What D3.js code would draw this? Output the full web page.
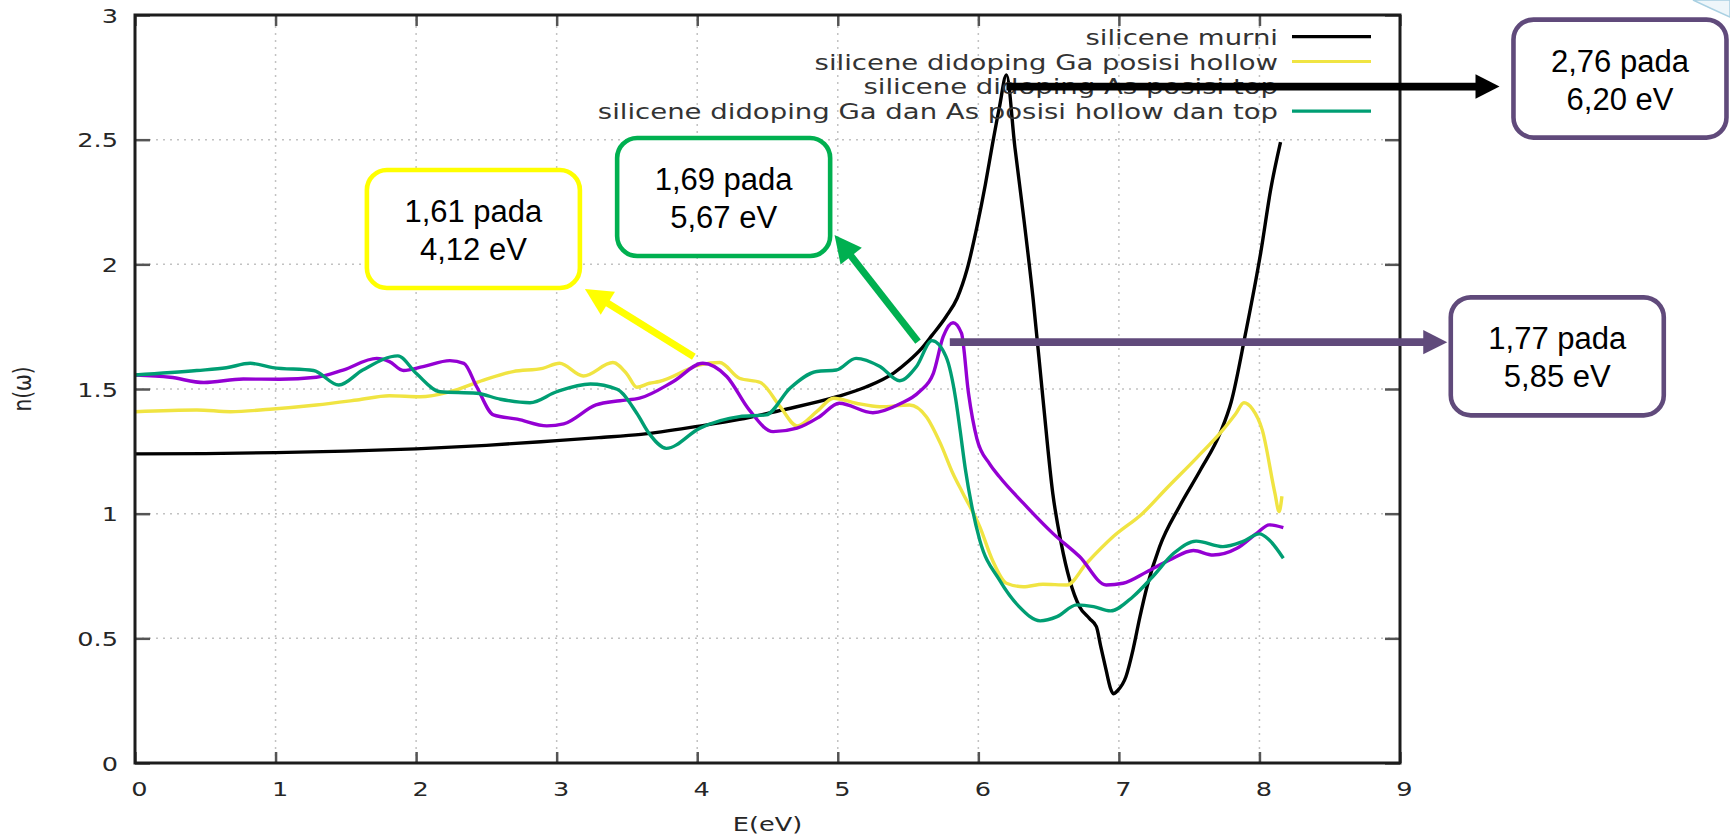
<!DOCTYPE html>
<html>
<head>
<meta charset="utf-8">
<script src="https://cdn.jsdelivr.net/npm/d3@7"></script>
<style>
  body { margin: 0; background: white; }
</style>
</head>
<body>
<div id="container"></div>
<script>
let w = 1730;
let h = 837;

// DATA  [E (eV), n]
let murni = [[0,1.240],[0.5,1.241],[1,1.245],[1.5,1.251],[2,1.260],[2.5,1.274],[3,1.293],[3.3,1.305],[3.6,1.318],
  [4.0,1.350],[4.3,1.378],[4.6,1.415],[5.0,1.470],[5.2,1.508],[5.4,1.565],[5.5,1.610],[5.6,1.665],[5.67,1.715],
  [5.77,1.790],[5.85,1.865],[5.92,1.980],[5.99,2.150],[6.05,2.320],[6.10,2.480],[6.15,2.630],[6.20,2.760],
  [6.26,2.470],[6.32,2.200],[6.39,1.860],[6.46,1.460],[6.53,1.080],[6.59,0.880],[6.65,0.734],[6.72,0.627],
  [6.79,0.580],[6.84,0.547],[6.87,0.470],[6.91,0.370],[6.94,0.300],[6.96,0.278],[6.99,0.290],[7.05,0.346],
  [7.10,0.453],[7.15,0.587],[7.20,0.707],[7.29,0.868],[7.43,1.028],[7.58,1.175],[7.72,1.323],[7.80,1.450],
  [7.90,1.720],[8.01,2.050],[8.08,2.300],[8.15,2.490]];

let gaHollow = [[0,1.409],[0.44,1.416],[0.68,1.409],[0.96,1.419],[1.29,1.436],[1.58,1.456],[1.81,1.473],[2.03,1.469],
  [2.24,1.489],[2.48,1.536],[2.69,1.570],[2.90,1.583],[3.02,1.603],[3.19,1.552],[3.40,1.606],[3.50,1.560],[3.57,1.507],
  [3.66,1.523],[3.73,1.530],[4.02,1.597],[4.16,1.606],[4.30,1.543],[4.45,1.526],[4.59,1.429],[4.71,1.352],[4.85,1.409],
  [4.97,1.463],[5.13,1.443],[5.30,1.429],[5.51,1.436],[5.63,1.389],[5.73,1.282],[5.82,1.160],[5.89,1.082],[6.01,0.948],
  [6.10,0.814],[6.20,0.721],[6.32,0.707],[6.46,0.717],[6.63,0.714],[6.77,0.801],[6.96,0.908],[7.17,1.002],[7.34,1.102],
  [7.55,1.222],[7.74,1.336],[7.83,1.400],[7.89,1.445],[7.95,1.420],[8.02,1.336],[8.11,1.082],[8.14,1.008],[8.16,1.070]];

let asTop = [[0,1.556],[0.25,1.547],[0.49,1.526],[0.77,1.540],[1.03,1.539],[1.29,1.547],[1.48,1.576],[1.72,1.623],
  [1.81,1.610],[1.91,1.574],[2.05,1.590],[2.24,1.614],[2.34,1.603],[2.43,1.510],[2.55,1.396],[2.72,1.379],[2.93,1.352],
  [3.05,1.360],[3.28,1.436],[3.45,1.453],[3.59,1.463],[3.83,1.530],[4.04,1.603],[4.21,1.550],[4.37,1.416],[4.54,1.329],
  [4.71,1.343],[4.87,1.389],[5.01,1.443],[5.25,1.405],[5.44,1.440],[5.58,1.489],[5.68,1.563],[5.75,1.710],[5.82,1.766],
  [5.88,1.724],[5.93,1.483],[5.99,1.300],[6.08,1.200],[6.15,1.148],[6.32,1.042],[6.53,0.921],[6.72,0.828],[6.91,0.714],
  [7.03,0.721],[7.20,0.767],[7.36,0.814],[7.53,0.852],[7.67,0.834],[7.84,0.861],[7.98,0.921],[8.07,0.955],[8.17,0.944]];

let gaAs = [[0,1.556],[0.44,1.574],[0.65,1.585],[0.82,1.603],[0.98,1.586],[1.27,1.574],[1.45,1.516],[1.62,1.576],
  [1.87,1.633],[2.00,1.563],[2.17,1.489],[2.43,1.483],[2.60,1.459],[2.81,1.445],[3.00,1.489],[3.24,1.520],[3.43,1.499],
  [3.57,1.403],[3.66,1.320],[3.78,1.262],[4.02,1.343],[4.30,1.389],[4.49,1.396],[4.66,1.503],[4.85,1.570],[4.99,1.576],
  [5.13,1.623],[5.30,1.590],[5.44,1.533],[5.56,1.590],[5.67,1.694],[5.77,1.630],[5.84,1.456],[5.87,1.336],[5.91,1.170],
  [5.95,1.040],[6.01,0.894],[6.15,0.734],[6.29,0.627],[6.44,0.570],[6.56,0.587],[6.70,0.634],[6.82,0.627],[6.94,0.610],
  [7.10,0.667],[7.24,0.747],[7.39,0.841],[7.55,0.890],[7.74,0.868],[7.88,0.888],[8.00,0.919],[8.07,0.894],[8.17,0.821]];

let seriesNames = ["silicene murni", "silicene didoping Ga posisi hollow",
  "silicene didoping As posisi top", "silicene didoping Ga dan As posisi hollow dan top"];
let seriesColors = ["#000000", "#f0e442", "#9400d3", "#009e73"];
let seriesData = [murni, gaHollow, asTop, gaAs];

let xTicks = [0,1,2,3,4,5,6,7,8,9];
let yTicks = [0,0.5,1,1.5,2,2.5,3];

// callouts (positions in data units, the boxes sit outside the plot on the right)
let callouts = [
  {text: ["1,61 pada", "4,12 eV"], box: [2.4075, 2.142], color: "#ffff00", from: [3.976, 1.629], to: [3.201, 1.901]},
  {text: ["1,69 pada", "5,67 eV"], box: [4.188, 2.270], color: "#00b050", from: [5.571, 1.690], to: [4.977, 2.118]},
  {text: ["2,76 pada", "6,20 eV"], box: [10.565, 2.745], color: "#604a7b", from: [6.20, 2.713], to: [9.708, 2.713], arrow: "#000000"},
  {text: ["1,77 pada", "5,85 eV"], box: [10.119, 1.631], color: "#604a7b", from: [5.797, 1.688], to: [9.336, 1.688]}
];

let sx = 1.28; // gnuplot text in the picture is stretched sideways
let tickFont = "DejaVu Sans";

let viz = d3.select("#container").append("svg")
    .attr("width", w)
    .attr("height", h)
    .style("background-color", "white");

let x = d3.scaleLinear().domain([0, 9]).range([135, 1400]);
let y = d3.scaleLinear().domain([0, 3]).range([763, 15]);

// GRID
viz.append("g").selectAll("line").data(xTicks.filter(d => d > 0 && d < 9)).enter()
  .append("line")
    .attr("x1", d => x(d)).attr("x2", d => x(d))
    .attr("y1", y(0)).attr("y2", y(3))
    .attr("stroke", "#c2c2c2").attr("stroke-width", 1.5).attr("stroke-dasharray", "2,5");
viz.append("g").selectAll("line").data(yTicks.filter(d => d > 0 && d < 3)).enter()
  .append("line")
    .attr("x1", x(0)).attr("x2", x(9))
    .attr("y1", d => y(d)).attr("y2", d => y(d))
    .attr("stroke", "#c2c2c2").attr("stroke-width", 1.5).attr("stroke-dasharray", "2,5");

// AXES (inward ticks, mirrored)
function styleAxis(g) {
  g.select(".domain").remove();
  g.selectAll(".tick line").attr("stroke", "#555").attr("stroke-width", 2.5);
  g.attr("font-family", tickFont).attr("font-size", 20);
  g.selectAll(".tick text").attr("fill", "#262626");
}

viz.append("g")
  .attr("transform", `translate(0,${y(0)})`)
  .call(d3.axisBottom(x).tickValues(xTicks).tickSize(-11).tickFormat(d => String(d)))
  .call(styleAxis)
  .call(g => g.selectAll(".tick text")
    .attr("y", null).attr("dy", null)
    .attr("transform", `translate(4,33) scale(${sx},1)`));

viz.append("g")
  .attr("transform", `translate(${x(0)},0)`)
  .call(d3.axisLeft(y).tickValues(yTicks).tickSize(-15).tickFormat(d => String(d)))
  .call(styleAxis)
  .call(g => g.selectAll(".tick text")
    .attr("x", null).attr("dy", null)
    .attr("transform", `translate(-17,7) scale(${sx},1)`));

viz.append("g")
  .attr("transform", `translate(0,${y(3)})`)
  .call(d3.axisTop(x).tickValues(xTicks).tickSize(-11).tickFormat(""))
  .call(styleAxis);

viz.append("g")
  .attr("transform", `translate(${x(9)},0)`)
  .call(d3.axisRight(y).tickValues(yTicks).tickSize(-15).tickFormat(""))
  .call(styleAxis);

// LINES
let lineMaker = d3.line()
  .x(d => x(d[0]))
  .y(d => y(d[1]))
  .curve(d3.curveMonotoneX);

viz.selectAll(".series").data(seriesData).enter()
  .append("path")
    .attr("class", "series")
    .attr("d", lineMaker)
    .attr("fill", "none")
    .attr("stroke", (d, i) => seriesColors[i])
    .attr("stroke-width", 3.4)
    .attr("stroke-linejoin", "round");

// BORDER
viz.append("rect")
  .attr("x", x(0)).attr("y", y(3))
  .attr("width", x(9) - x(0)).attr("height", y(0) - y(3))
  .attr("fill", "none").attr("stroke", "#1c1c1c").attr("stroke-width", 3);

// AXIS LABELS
viz.append("text")
  .attr("transform", `translate(${(x(0) + x(9)) / 2},831) scale(${sx},1)`)
  .attr("text-anchor", "middle")
  .attr("font-family", tickFont).attr("font-size", 20).attr("fill", "#262626")
  .text("E(eV)");

viz.append("text")
  .attr("transform", `translate(31,${y(1.5)}) scale(${sx},1) rotate(-90)`)
  .attr("text-anchor", "middle")
  .attr("font-family", tickFont).attr("font-size", 20).attr("fill", "#262626")
  .text("n(ω)");

// LEGEND
let legend = viz.append("g").selectAll("g").data(seriesNames).enter()
  .append("g")
    .attr("transform", (d, i) => `translate(0,${36.7 + i * 24.8})`);
legend.append("text")
  .attr("transform", `translate(1278,8) scale(${sx},1)`)
  .attr("text-anchor", "end")
  .attr("font-family", tickFont).attr("font-size", 21.5).attr("fill", "#333")
  .text(d => d);
legend.append("line")
  .attr("x1", 1292).attr("x2", 1371)
  .attr("stroke", (d, i) => seriesColors[i])
  .attr("stroke-width", 3.2);

// CORNER DECORATION
viz.append("path")
  .attr("d", "M1693,0 Q1712,9 1730,17 L1730,0 Z")
  .attr("fill", "#eef6fa").attr("stroke", "#a9d0e2").attr("stroke-width", 1.5);

// CALLOUTS
function arrow(from, to, color, width, headLen, headHalf) {
  let x1 = x(from[0]), y1 = y(from[1]);
  let x2 = x(to[0]), y2 = y(to[1]);
  let len = Math.hypot(x2 - x1, y2 - y1);
  let ux = (x2 - x1) / len, uy = (y2 - y1) / len;
  let bx = x2 - ux * headLen, by = y2 - uy * headLen;
  viz.append("line")
    .attr("x1", x1).attr("y1", y1).attr("x2", bx + ux).attr("y2", by + uy)
    .attr("stroke", color).attr("stroke-width", width);
  viz.append("path")
    .attr("d", `M${x2},${y2} L${bx - uy * headHalf},${by + ux * headHalf} L${bx + uy * headHalf},${by - ux * headHalf} Z`)
    .attr("fill", color);
}

callouts.forEach((c) => {
  let cx = x(c.box[0]), cy = y(c.box[1]);
  let isSide = c.arrow !== undefined || c.from[1] === c.to[1];
  arrow(c.from, c.to, c.arrow || c.color, isSide ? 7.8 : 7, isSide ? 24 : 27, isSide ? 12.2 : 13.5);
  viz.append("rect")
    .attr("x", cx - 106.5).attr("y", cy - 59)
    .attr("width", 213).attr("height", 118)
    .attr("rx", 20).attr("ry", 20)
    .attr("fill", "white")
    .attr("stroke", c.color).attr("stroke-width", 4.6);
  viz.append("text")
    .attr("x", cx).attr("y", cy - 7)
    .attr("text-anchor", "middle")
    .attr("font-family", "Liberation Sans, Arial").attr("font-size", 31)
    .text(c.text[0]);
  viz.append("text")
    .attr("x", cx).attr("y", cy + 31)
    .attr("text-anchor", "middle")
    .attr("font-family", "Liberation Sans, Arial").attr("font-size", 31)
    .text(c.text[1]);
});
</script>
</body>
</html>
